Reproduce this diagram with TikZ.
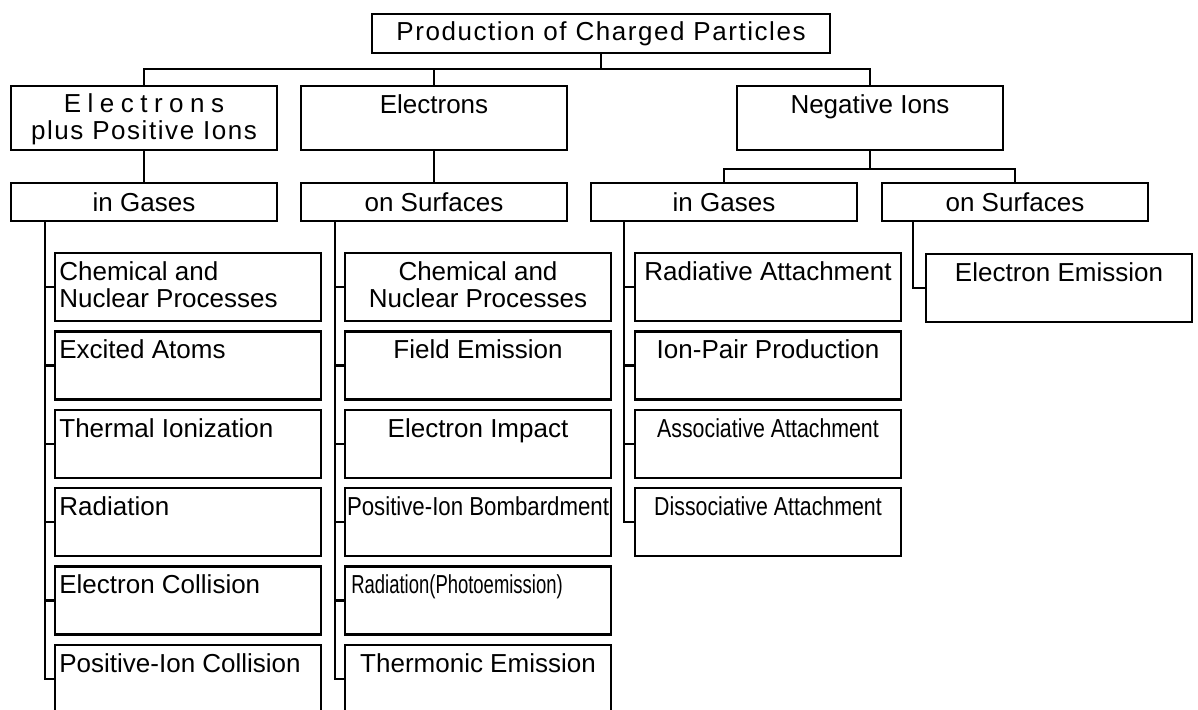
\documentclass[tikz,border=0pt]{standalone}
\usepackage{fontspec}
\setmainfont{Liberation Sans}
\newcommand{\squeeze}[2]{\scalebox{#1}[1]{#2}}
\begin{document}
\begin{tikzpicture}[x=0.02cm, y=-0.02cm, font=\fontsize{14.8pt}{15.4pt}\selectfont,
		box/.style={draw, line width=1.3pt, inner sep=0pt, outer sep=0pt, minimum width=5.32cm},
		head/.style={box, minimum height=1.28cm},
		sub/.style={box, minimum height=0.76cm},
		leaf/.style={box, minimum height=1.36cm},
		ltxt/.style={anchor=north west, align=left, inner sep=0pt, xshift=0.08cm, yshift=-0.16cm},
		ctxt/.style={anchor=north, align=center, inner sep=0pt, yshift=-0.16cm},
		link/.style={line width=1.3pt}]
			\useasboundingbox (0,0) rectangle (1198,710);
			\node[box, minimum width=9.16cm, minimum height=0.78cm] (top) at (601,33.5) {\addfontfeature{LetterSpace=6}Production of Charged Particles};
			\node[head, label={[ctxt, yshift=0.02cm]north:{\addfontfeature{LetterSpace=25}Electrons}\\{\addfontfeature{LetterSpace=6}plus Positive Ions}}] (eip) at (144,118) {};
			\node[head, label={[ctxt]north:Electrons}] (el) at (434,118) {};
			\node[head, label={[ctxt]north:Negative Ions}] (neg) at (870,118) {};
			\node[sub] (gas1) at (144,202) {in Gases};
			\node[sub] (surf1) at (434,202) {on Surfaces};
			\node[sub] (gas2) at (724,202) {in Gases};
			\node[sub] (surf2) at (1015,202) {on Surfaces};
			\node[leaf, label={[ltxt]north west:Chemical and\\Nuclear Processes}] (a1) at (188,287) {};
			\node[leaf, label={[ltxt]north west:Excited Atoms}] (a2) at (188,365.4) {};
			\node[leaf, label={[ltxt]north west:Thermal Ionization}] (a3) at (188,443.8) {};
			\node[leaf, label={[ltxt]north west:Radiation}] (a4) at (188,522.2) {};
			\node[leaf, label={[ltxt]north west:Electron Collision}] (a5) at (188,600.6) {};
			\node[leaf, label={[ltxt]north west:Positive-Ion Collision}] (a6) at (188,679) {};
			\node[leaf, label={[ctxt]north:Chemical and\\Nuclear Processes}] (b1) at (478,287) {};
			\node[leaf, label={[ctxt]north:Field Emission}] (b2) at (478,365.4) {};
			\node[leaf, label={[ctxt]north:Electron Impact}] (b3) at (478,443.8) {};
			\node[leaf, label={[ctxt]north:\squeeze{0.855}{Positive-Ion Bombardment}}] (b4) at (478,522.2) {};
			\node[leaf, label={[ltxt, xshift=0.04cm]north west:\squeeze{0.71}{Radiation(Photoemission)}}] (b5) at (478,600.6) {};
			\node[leaf, label={[ctxt]north:Thermonic Emission}] (b6) at (478,679) {};
			\node[leaf, label={[ctxt]north:Radiative Attachment}] (c1) at (768,287) {};
			\node[leaf, label={[ctxt]north:Ion-Pair Production}] (c2) at (768,365.4) {};
			\node[leaf, label={[ctxt]north:\squeeze{0.82}{Associative Attachment}}] (c3) at (768,443.8) {};
			\node[leaf, label={[ctxt]north:\squeeze{0.82}{Dissociative Attachment}}] (c4) at (768,522.2) {};
			\node[leaf, label={[ctxt]north:Electron Emission}] (d1) at (1059,288) {};
			\draw[link] (top.south) -- ++(0,16) coordinate (hub) -| (eip.north);
			\draw[link] (hub) -| (el.north);
			\draw[link] (hub) -| (neg.north);
			\draw[link] (eip) -- (gas1);
			\draw[link] (el) -- (surf1);
			\draw[link] (neg.south) -- ++(0,19) coordinate (nhub) -| (gas2.north);
			\draw[link] (nhub) -| (surf2.north);
			\coordinate (t1) at ([xshift=0.68cm]gas1.south west);
			\coordinate (t2) at ([xshift=0.68cm]surf1.south west);
			\coordinate (t3) at ([xshift=0.66cm]gas2.south west);
			\coordinate (t4) at ([xshift=0.62cm]surf2.south west);
			\draw[link] (t1) |- (a1.west) (t1) |- (a2.west) (t1) |- (a3.west) (t1) |- (a4.west) (t1) |- (a5.west) (t1) |- (a6.west);
			\draw[link] (t2) |- (b1.west) (t2) |- (b2.west) (t2) |- (b3.west) (t2) |- (b4.west) (t2) |- (b5.west) (t2) |- (b6.west);
			\draw[link] (t3) |- (c1.west) (t3) |- (c2.west) (t3) |- (c3.west) (t3) |- (c4.west);
			\draw[link] (t4) |- (d1.west);
		\end{tikzpicture}
\end{document}
